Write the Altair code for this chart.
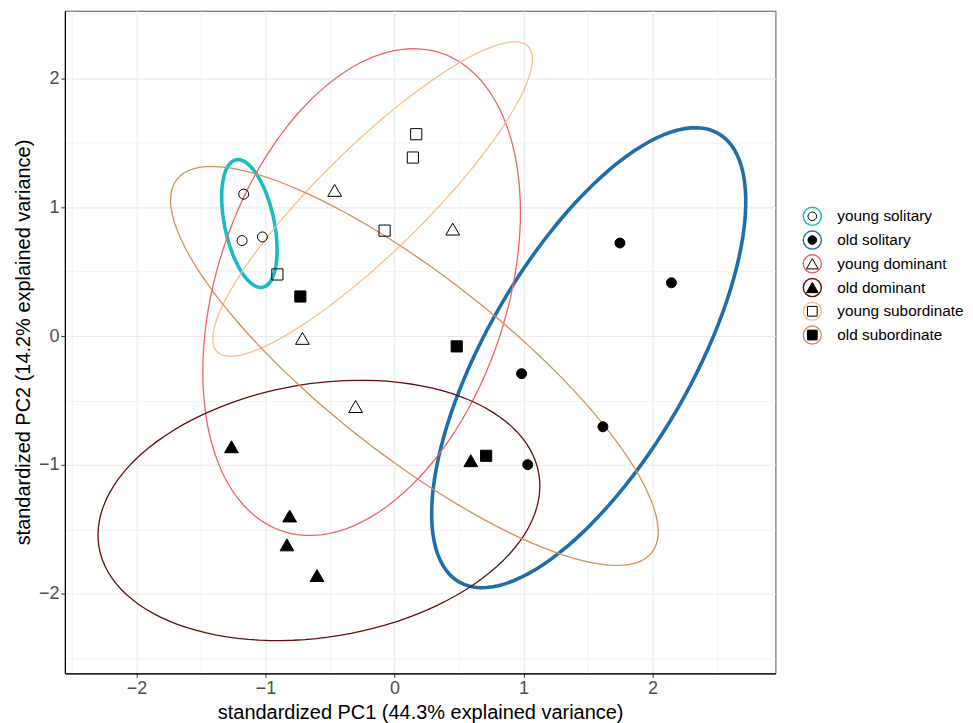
import altair as alt
import pandas as pd

# ---------------- data ----------------
groups = ["young solitary", "old solitary", "young dominant",
          "old dominant", "young subordinate", "old subordinate"]
colors = ["#17BDC5", "#1F6EA8", "#EE6363", "#6B0A0A", "#FDBE87", "#DC8C56"]
shapes = ["circle", "circle", "triangle-up", "triangle-up", "square", "square"]
fills = ["open", "filled", "open", "filled", "open", "filled"]
sizes = [100, 100, 190, 190, 125, 125]

pc1 = {
    "young solitary": [-1.169, -1.182, -1.024],
    "old solitary": [1.747, 2.146, 0.985, 1.615, 1.032],
    "young dominant": [-0.464, 0.451, -0.714, -0.302],
    "old dominant": [-1.264, -0.813, -0.834, -0.601, 0.591],
    "young subordinate": [0.168, 0.142, -0.077, -0.908],
    "old subordinate": [-0.730, 0.482, 0.710],
}
pc2 = {
    "young solitary": [1.101, 0.741, 0.769],
    "old solitary": [0.722, 0.413, -0.292, -0.704, -0.998],
    "young dominant": [1.130, 0.830, -0.018, -0.547],
    "old dominant": [-0.859, -1.396, -1.620, -1.858, -0.967],
    "young subordinate": [1.566, 1.385, 0.818, 0.478],
    "old subordinate": [0.307, -0.080, -0.929],
}

# ellipse parameters (centre, semi-axes, rotation in degrees), per group
ell_cx = [-1.125, 1.505, -0.255, -0.586, -0.170, 0.154]
ell_cy = [0.873, -0.168, 0.341, -1.353, 1.063, -0.232]
ell_a = [0.505, 2.009, 1.954, 1.728, 1.690, 2.342]
ell_b = [0.192, 0.794, 1.124, 0.983, 0.409, 0.694]
ell_ang = [101.9, 60.0, 71.7, 9.4, 44.5, -38.2]
ell_lw = [3.6, 3.6, 1.3, 1.3, 1.3, 1.3]
angles = list(range(0, 361, 3))

x_vals = [-2.5, -2, -1.5, -1, -0.5, 0, 0.5, 1, 1.5, 2, 2.5]
y_vals = [-2.5, -2, -1.5, -1, -0.5, 0, 0.5, 1, 1.5, 2, 2.5]
x_domain = [-2.555, 2.952]
y_domain = [-2.617, 2.524]

# ---------------- tables ----------------
rows = []
for g, s, f, sz in zip(groups, shapes, fills, sizes):
    for xv, yv in zip(pc1[g], pc2[g]):
        rows.append({"group": g, "pc1": xv, "pc2": yv, "shape": s, "fill": f, "size": sz})
pts = pd.DataFrame(rows)

ell = pd.DataFrame({
    "group": groups, "cx": ell_cx, "cy": ell_cy, "a": ell_a, "b": ell_b,
    "ang": ell_ang, "lw": ell_lw, "t": [angles] * len(groups),
})

leg = pd.DataFrame({"group": groups, "rank": list(range(len(groups))),
                    "shape": shapes, "fill": fills})

FONT = "Liberation Sans"
color_scale = alt.Scale(domain=groups, range=colors)
shape_scale = alt.Scale(domain=shapes[::2], range=shapes[::2])
fill_scale = alt.Scale(domain=["filled", "open"], range=["black", "transparent"])
xscale = alt.Scale(domain=x_domain, nice=False, zero=False)
yscale = alt.Scale(domain=y_domain, nice=False, zero=False)

is_int = "datum.value % 1 == 0"


def make_axis(title, vals):
    return alt.Axis(
        title=title,
        values=vals,
        labelExpr="datum.value % 1 == 0 ? format(datum.value, 'd') : ''",
        gridWidth={"condition": {"test": is_int, "value": 1.1}, "value": 0.6},
        tickOpacity={"condition": {"test": is_int, "value": 1}, "value": 0},
        gridColor="#EBEBEB",
        domainColor="black",
        domainWidth=1.2,
        tickColor="#333333",
        tickSize=4,
        tickWidth=1,
        labelColor="#4D4D4D",
        labelFont=FONT,
        labelFontSize=18,
        labelPadding=2,
        titleFont=FONT,
        titleFontSize=20,
        titleFontWeight="normal",
        titleColor="black",
        titlePadding=5,
    )


ellipses = (
    alt.Chart(ell)
    .transform_flatten(["t"])
    .transform_calculate(
        ex="datum.cx + datum.a*cos(datum.ang*PI/180)*cos(datum.t*PI/180) - datum.b*sin(datum.ang*PI/180)*sin(datum.t*PI/180)",
        ey="datum.cy + datum.a*sin(datum.ang*PI/180)*cos(datum.t*PI/180) + datum.b*cos(datum.ang*PI/180)*sin(datum.t*PI/180)",
    )
    .mark_line(clip=True)
    .encode(
        x=alt.X("ex:Q", scale=xscale, axis=make_axis("standardized PC1 (44.3% explained variance)", x_vals)),
        y=alt.Y("ey:Q", scale=yscale, axis=make_axis("standardized PC2 (14.2% explained variance)", y_vals)),
        order="t:Q",
        detail="group:N",
        stroke=alt.Stroke("group:N", scale=color_scale, legend=None),
        strokeWidth=alt.StrokeWidth("lw:Q", scale=None),
    )
)

points = (
    alt.Chart(pts)
    .mark_point(filled=True, stroke="black", strokeWidth=1, opacity=1)
    .encode(
        x=alt.X("pc1:Q", scale=xscale),
        y=alt.Y("pc2:Q", scale=yscale),
        shape=alt.Shape("shape:N", scale=shape_scale, legend=None),
        fill=alt.Fill("fill:N", scale=fill_scale, legend=None),
        size=alt.Size("size:Q", scale=None),
    )
)

main = alt.layer(ellipses, points).properties(
    width=712, height=664,
    view=alt.ViewConfig(stroke="#555555", strokeWidth=1),
)

# ---------------- manual legend ----------------
leg_y = alt.Y("rank:Q", scale=alt.Scale(domain=[-8.655, 19.245], reverse=True), axis=None)
leg_base = alt.Chart(leg).encode(y=leg_y)
rings = leg_base.mark_point(filled=False, size=330, strokeWidth=1.4, opacity=1).encode(
    x=alt.value(35),
    stroke=alt.Stroke("group:N", scale=color_scale, legend=None),
)
leg_shape_sizes = pd.DataFrame({"shape": shapes[::2], "lsize": [75, 140, 95]})
syms = leg_base.transform_lookup(
    lookup="shape", from_=alt.LookupData(leg_shape_sizes, "shape", ["lsize"])
).mark_point(filled=True, stroke="black", strokeWidth=1, opacity=1).encode(
    x=alt.value(35),
    shape=alt.Shape("shape:N", scale=shape_scale, legend=None),
    fill=alt.Fill("fill:N", scale=fill_scale, legend=None),
    size=alt.Size("lsize:Q", scale=None),
)
labels = leg_base.mark_text(align="left", baseline="middle", font=FONT,
                            fontSize=15.4, color="black").encode(
    x=alt.value(60), text="group:N")

legend = alt.layer(rings, syms, labels).properties(
    width=175, height=664,
    view=alt.ViewConfig(stroke="transparent"),
)

chart = (
    alt.hconcat(main, legend, spacing=0)
    .resolve_scale(stroke="shared", shape="shared", fill="shared")
    .properties(padding={"left": 4, "top": 1, "right": 0, "bottom": 0},
                background="white")
)

chart.save("out.html", embed_options={"renderer": "svg", "actions": False})
